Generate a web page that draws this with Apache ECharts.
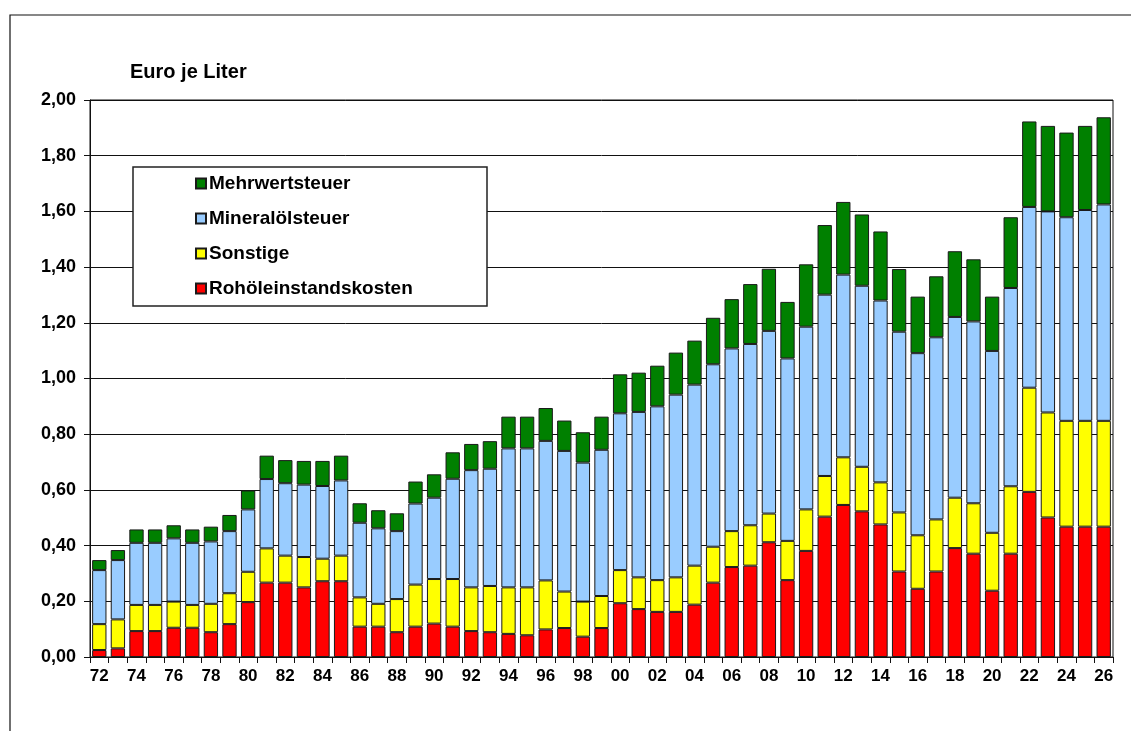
<!DOCTYPE html>
<html>
<head>
<meta charset="UTF-8">
<title>Benzinpreis</title>
<style type="text/css">
html, body {
	width: 100%;
	height: 100%;
	padding: 0px;
	margin: 0px;
	background: #fff;
}
</style>
<script src="https://cdn.jsdelivr.net/npm/echarts@6/dist/echarts.min.js"></script>
</head>
<body>
	<div id="chart" style="width: 100%; height: 100%;"></div>

	<script type="text/javascript">
        // Jahre (zweistellig)
        var years = ['72','73','74','75','76','77','78','79','80','81','82','83','84','85','86','87','88','89',
            '90','91','92','93','94','95','96','97','98','99','00','01','02','03','04','05','06','07','08','09',
            '10','11','12','13','14','15','16','17','18','19','20','21','22','23','24','25','26'];

        // Euro je Liter
        var rohoel = [0.025,0.031,0.093,0.093,0.105,0.105,0.089,0.118,0.197,0.267,0.267,0.250,0.272,0.272,0.109,0.109,0.089,0.109,
            0.120,0.109,0.093,0.089,0.083,0.078,0.099,0.104,0.073,0.104,0.193,0.172,0.162,0.162,0.188,0.267,0.323,0.328,0.412,0.276,
            0.381,0.504,0.546,0.523,0.476,0.307,0.245,0.307,0.391,0.371,0.238,0.371,0.593,0.501,0.468,0.468,0.468];
        var sonstige = [0.093,0.104,0.094,0.094,0.094,0.082,0.102,0.111,0.109,0.123,0.097,0.109,0.081,0.092,0.105,0.082,0.119,0.151,
            0.160,0.171,0.157,0.166,0.167,0.172,0.176,0.131,0.126,0.115,0.119,0.114,0.114,0.124,0.140,0.129,0.129,0.145,0.103,0.141,
            0.149,0.146,0.171,0.160,0.151,0.212,0.192,0.187,0.181,0.181,0.208,0.242,0.374,0.377,0.380,0.380,0.380];
        var mineraloel = [0.194,0.213,0.223,0.223,0.227,0.223,0.224,0.223,0.224,0.249,0.260,0.260,0.261,0.270,0.268,0.271,0.244,0.291,
            0.292,0.360,0.421,0.421,0.499,0.499,0.501,0.505,0.499,0.525,0.563,0.594,0.624,0.656,0.650,0.655,0.656,0.651,0.656,0.655,
            0.656,0.651,0.656,0.650,0.653,0.649,0.654,0.654,0.649,0.653,0.653,0.712,0.649,0.722,0.731,0.757,0.777];
        var mwst = [0.036,0.036,0.048,0.048,0.047,0.048,0.053,0.058,0.068,0.084,0.083,0.085,0.090,0.089,0.070,0.065,0.064,0.079,
            0.084,0.095,0.094,0.099,0.114,0.114,0.118,0.109,0.109,0.119,0.140,0.141,0.146,0.151,0.158,0.167,0.177,0.215,0.223,0.203,
            0.224,0.250,0.261,0.256,0.248,0.225,0.203,0.219,0.236,0.223,0.195,0.254,0.307,0.307,0.304,0.302,0.313];

        var FONT = '"Liberation Sans", Arial, sans-serif';

        function barSerie(name, data, color) {
            return {
                name: name,
                type: 'bar',
                stack: 'preis',
                barCategoryGap: '23%',
                data: data,
                itemStyle: { color: color, borderColor: '#1a1a1a', borderWidth: 1 },
                emphasis: { disabled: true }
            };
        }

        var myChart = echarts.init(document.getElementById('chart'));
        myChart.setOption({
            animation: false,
            backgroundColor: '#fff',
            title: {
                text: 'Euro je Liter',
                left: 125,
                top: 57,
                textStyle: { fontFamily: FONT, fontSize: 20, fontWeight: 'bold', color: '#000' }
            },
            graphic: [
                {
                    type: 'rect',
                    shape: { x: 10, y: 15, width: 1150, height: 760 },
                    style: { fill: 'none', stroke: '#111', lineWidth: 1.2 },
                    silent: true
                },
                {
                    type: 'rect',
                    z: 5,
                    shape: { x: 133, y: 167, width: 354, height: 139 },
                    style: { fill: '#fff', stroke: '#222', lineWidth: 1.5 },
                    silent: true
                }
            ],
            legend: {
                orient: 'vertical',
                left: 195,
                top: 174,
                z: 10,
                data: ['Mehrwertsteuer', 'Mineralölsteuer', 'Sonstige', 'Rohöleinstandskosten'],
                icon: 'rect',
                itemWidth: 10,
                itemHeight: 10,
                itemGap: 16,
                padding: 0,
                selectedMode: false,
                textStyle: { fontFamily: FONT, fontSize: 19, fontWeight: 'bold', color: '#000', lineHeight: 19, padding: [0, 0, 0, -2] }
            },
            grid: {
                left: 90,
                top: 100,
                right: 18,
                bottom: 74,
                show: true,
                borderColor: '#111',
                borderWidth: 1
            },
            xAxis: {
                type: 'category',
                data: years,
                axisLine: { lineStyle: { color: '#111', width: 1 } },
                axisTick: { show: true, interval: 0, length: 6, lineStyle: { color: '#111' } },
                axisLabel: {
                    interval: 1,
                    margin: 11,
                    fontFamily: FONT,
                    fontSize: 17,
                    fontWeight: 'bold',
                    color: '#000'
                }
            },
            yAxis: {
                type: 'value',
                min: 0,
                max: 2,
                interval: 0.2,
                axisLine: { show: true, lineStyle: { color: '#111', width: 1 } },
                axisTick: { show: true, length: 6, lineStyle: { color: '#111' } },
                splitLine: { lineStyle: { color: '#111', width: 1 } },
                axisLabel: {
                    margin: 14,
                    fontFamily: FONT,
                    fontSize: 18,
                    fontWeight: 'bold',
                    color: '#000',
                    formatter: function (v) { return v.toFixed(2).replace('.', ','); }
                }
            },
            series: [
                barSerie('Rohöleinstandskosten', rohoel, '#FF0000'),
                barSerie('Sonstige', sonstige, '#FFFF00'),
                barSerie('Mineralölsteuer', mineraloel, '#99CCFF'),
                barSerie('Mehrwertsteuer', mwst, '#008000')
            ]
        });
	</script>
</body>
</html>
